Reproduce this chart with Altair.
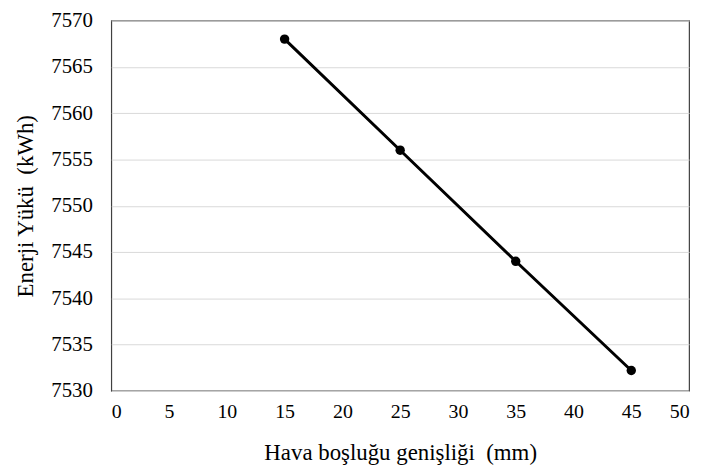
import altair as alt
import pandas as pd

gap_mm = [15, 25, 35, 45]
energy_kwh = [7568.0, 7556.0, 7544.0, 7532.2]

df = pd.DataFrame({"gap": gap_mm, "energy": energy_kwh})

FONT = "Liberation Serif"

axis_style = dict(labelFont=FONT, titleFont=FONT, titleFontSize=23,
                  labelColor="black", titleColor="black", titleFontWeight="normal",
                  ticks=False, domain=False)

x = alt.X("gap:Q",
          scale=alt.Scale(domain=[0, 50], nice=False, zero=False),
          axis=alt.Axis(values=list(range(0, 51, 5)), format="d",
                        title="Hava boşluğu genişliği \u00a0(mm)", labelFontSize=20,
                        grid=False, labelPadding=11, titlePadding=20, **axis_style))
y = alt.Y("energy:Q",
          scale=alt.Scale(domain=[7530, 7570], nice=False, zero=False),
          axis=alt.Axis(values=list(range(7530, 7571, 5)), format="d",
                        title="Enerji Yükü \u00a0(kWh)", labelFontSize=21,
                        grid=True, gridColor="#d9d9d9",
                        labelPadding=19, titlePadding=13, **axis_style))

line = alt.Chart(df).mark_line(color="black", strokeWidth=3).encode(x=x, y=y)
pts = alt.Chart(df).mark_point(filled=True, color="black", size=90, opacity=1).encode(x=x, y=y)

chart = (line + pts).properties(
    width=582, height=373,
    autosize=alt.AutoSizeParams(type="none"),
    padding={"left": 104, "top": 11, "right": 10, "bottom": 80},
).configure_view(
    stroke="#404040", strokeWidth=1.2
)

chart.save("out.html", embed_options={"renderer": "svg", "actions": False})
